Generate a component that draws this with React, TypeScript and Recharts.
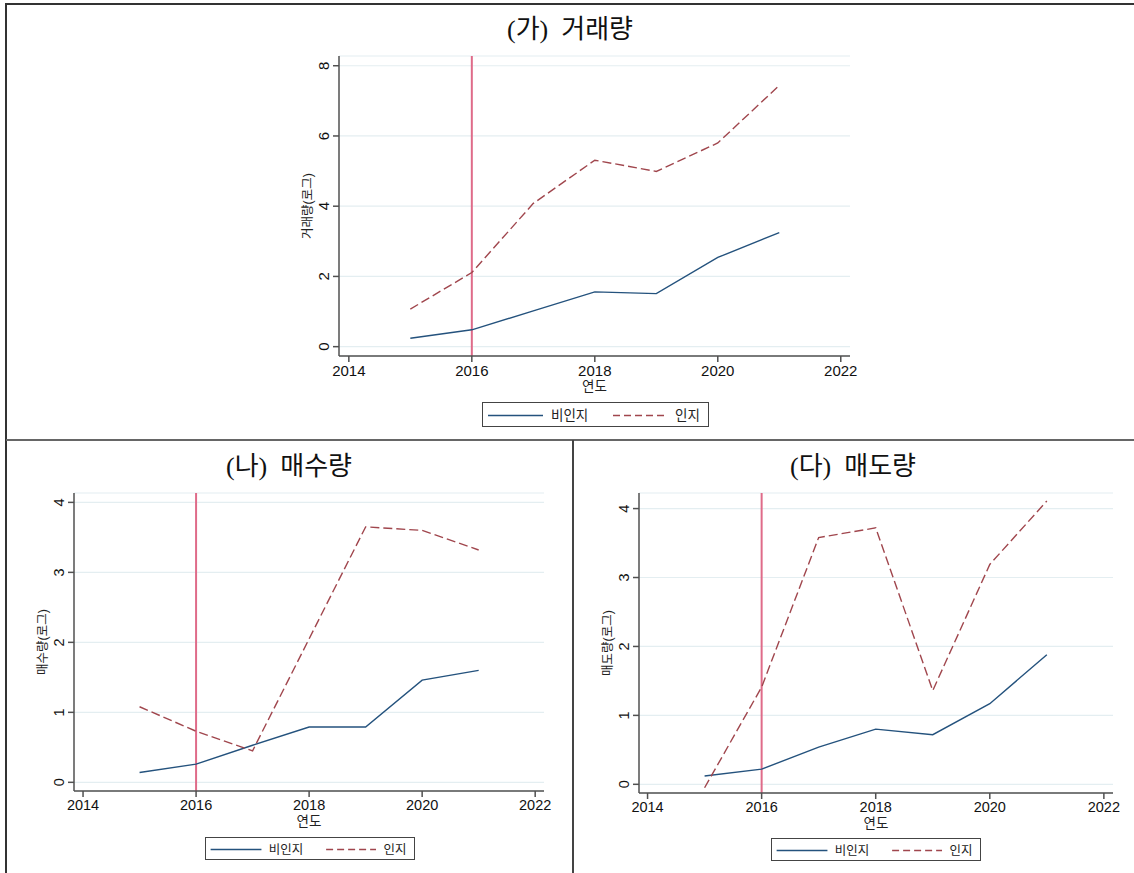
import React from "react";
import {
  LineChart,
  Line,
  XAxis,
  YAxis,
  CartesianGrid,
  ReferenceLine,
} from "recharts";

// 연도별 로그 거래량 (비인지 vs 인지)
const years = [2015, 2016, 2017, 2018, 2019, 2020, 2021];
const xTicks = [2014, 2016, 2018, 2020, 2022];

const tradeNonInsider = [0.24, 0.48, 1.02, 1.56, 1.51, 2.54, 3.25];
const tradeInsider = [1.07, 2.11, 4.08, 5.31, 4.99, 5.8, 7.44];
const buyNonInsider = [0.14, 0.26, 0.53, 0.79, 0.79, 1.46, 1.6];
const buyInsider = [1.08, 0.73, 0.45, 2.05, 3.65, 3.6, 3.32];
const sellNonInsider = [0.12, 0.22, 0.54, 0.8, 0.72, 1.17, 1.88];
const sellInsider = [-0.05, 1.41, 3.58, 3.72, 1.36, 3.19, 4.11];

const tradeTicks = [0, 2, 4, 6, 8];
const smallTicks = [0, 1, 2, 3, 4];

const eventYear = 2016;

const SANS = '"Liberation Sans", Arial, "Noto Sans CJK KR", sans-serif';
const SERIF = '"Liberation Serif", "Times New Roman", "Noto Sans CJK KR", serif';
const BLUE = "#24527d";
const RED = "#a0464d";
const EVENT = "#df6b89";
const AXIS = "#505050";

const toRows = (a: number[], b: number[]) =>
  years.map((year, i) => ({ year, nonInsider: a[i], insider: b[i] }));

function YTick(props: any) {
  const { x, y, payload, fontSize } = props;
  return (
    <text
      x={x}
      y={y}
      transform={`rotate(-90, ${x}, ${y})`}
      textAnchor="middle"
      fontSize={fontSize}
      fontFamily={SANS}
      fill="#111"
    >
      {payload.value}
    </text>
  );
}

function XTick(props: any) {
  const { x, y, payload, fontSize } = props;
  return (
    <text
      x={x}
      y={y}
      dy={fontSize * 0.72}
      textAnchor="middle"
      fontSize={fontSize}
      fontFamily={SANS}
      fill="#111"
    >
      {payload.value}
    </text>
  );
}

type PanelProps = {
  data: { year: number; nonInsider: number; insider: number }[];
  width: number;
  height: number;
  margin: { top: number; right: number; bottom: number; left: number };
  xDomain: [number, number];
  yDomain: [number, number];
  yTicks: number[];
  yLabel: string;
  tickFont: number;
};

function Panel({
  data,
  width,
  height,
  margin,
  xDomain,
  yDomain,
  yTicks,
  yLabel,
  tickFont,
}: PanelProps) {
  return (
    <LineChart width={width} height={height} data={data} margin={margin}>
      <CartesianGrid vertical={false} stroke="#e4eef1" strokeWidth={1.2} />
      <XAxis
        dataKey="year"
        type="number"
        domain={xDomain}
        ticks={xTicks}
        interval={0}
        allowDataOverflow
        height={40}
        stroke={AXIS}
        strokeWidth={1.5}
        tickSize={6}
        tickMargin={3}
        tick={(p: any) => <XTick {...p} fontSize={tickFont} />}
        label={(p: any) => {
          const vb = p.viewBox;
          return (
            <text
              x={vb.x + vb.width / 2}
              y={vb.y + 30}
              textAnchor="middle"
              dominantBaseline="central"
              fontSize={13.5}
              fontFamily={SANS}
              fill="#222"
            >
              연도
            </text>
          );
        }}
      />
      <YAxis
        type="number"
        domain={yDomain}
        ticks={yTicks}
        interval={0}
        allowDataOverflow
        width={40}
        stroke={AXIS}
        strokeWidth={1.5}
        tickSize={6}
        tickMargin={4}
        tick={(p: any) => <YTick {...p} fontSize={tickFont} />}
        label={(p: any) => {
          const vb = p.viewBox;
          const cx = vb.x + vb.width - 31;
          const cy = vb.y + vb.height / 2;
          return (
            <text
              x={cx}
              y={cy}
              transform={`rotate(-90, ${cx}, ${cy})`}
              textAnchor="middle"
              dominantBaseline="central"
              fontSize={12.5}
              fontFamily={SANS}
              fill="#222"
            >
              {yLabel}
            </text>
          );
        }}
      />
      <ReferenceLine x={eventYear} stroke={EVENT} strokeWidth={2} />
      <Line
        type="linear"
        dataKey="nonInsider"
        name="비인지"
        stroke={BLUE}
        strokeWidth={1.4}
        dot={false}
        isAnimationActive={false}
      />
      <Line
        type="linear"
        dataKey="insider"
        name="인지"
        stroke={RED}
        strokeWidth={1.4}
        strokeDasharray="9 4"
        dot={false}
        isAnimationActive={false}
      />
    </LineChart>
  );
}

function LegendBox({ left, top, s }: { left: number; top: number; s: number }) {
  const w = 227 * s;
  const h = 25 * s;
  return (
    <div
      style={{
        position: "absolute",
        left,
        top,
        width: w,
        height: h,
        border: "1.5px solid #444",
        boxSizing: "border-box",
        background: "#fff",
      }}
    >
      <svg width={w} height={h} style={{ position: "absolute", left: 0, top: 0 }}>
        <line x1={5 * s} x2={60 * s} y1={h / 2} y2={h / 2} stroke={BLUE} strokeWidth={1.4} />
        <text
          x={68 * s}
          y={h / 2}
          dominantBaseline="central"
          fontSize={13.5 * s}
          fontFamily={SANS}
          fill="#222"
        >
          비인지
        </text>
        <line
          x1={130 * s}
          x2={184 * s}
          y1={h / 2}
          y2={h / 2}
          stroke={RED}
          strokeWidth={1.4}
          strokeDasharray="7 4"
        />
        <text
          x={192 * s}
          y={h / 2}
          dominantBaseline="central"
          fontSize={13.5 * s}
          fontFamily={SANS}
          fill="#222"
        >
          인지
        </text>
      </svg>
    </div>
  );
}

function Title({ text, left, width, cy }: { text: string; left: number; width: number; cy: number }) {
  return (
    <div
      style={{
        position: "absolute",
        left,
        width,
        top: cy - 16,
        height: 32,
        lineHeight: "32px",
        textAlign: "center",
        fontFamily: SERIF,
        fontSize: 26,
        color: "#111",
        whiteSpace: "pre",
      }}
    >
      {text}
    </div>
  );
}

const rule = (style: React.CSSProperties) => (
  <div style={{ position: "absolute", background: "#333", ...style }} />
);

export default function App() {
  return (
    <div
      style={{
        position: "absolute",
        left: 0,
        top: 0,
        width: 1134,
        height: 873,
        background: "#fff",
        overflow: "hidden",
      }}
    >
      <div style={{ position: "absolute", left: 0, top: 0 }}>
        <Panel
          data={toRows(tradeNonInsider, tradeInsider)}
          width={1134}
          height={440}
          margin={{ top: 56, right: 284, bottom: 44, left: 299 }}
          xDomain={[2013.84, 2022.15]}
          yDomain={[-0.266, 8.277]}
          yTicks={tradeTicks}
          yLabel="거래량(로그)"
          tickFont={15}
        />
      </div>
      <div style={{ position: "absolute", left: 0, top: 440 }}>
        <Panel
          data={toRows(buyNonInsider, buyInsider)}
          width={572}
          height={433}
          margin={{ top: 53, right: 28, bottom: 42, left: 34 }}
          xDomain={[2013.84, 2022.156]}
          yDomain={[-0.124, 4.134]}
          yTicks={smallTicks}
          yLabel="매수량(로그)"
          tickFont={14.5}
        />
      </div>
      <div style={{ position: "absolute", left: 572, top: 440 }}>
        <Panel
          data={toRows(sellNonInsider, sellInsider)}
          width={562}
          height={433}
          margin={{ top: 53, right: 21, bottom: 40, left: 27 }}
          xDomain={[2013.85, 2022.16]}
          yDomain={[-0.126, 4.226]}
          yTicks={smallTicks}
          yLabel="매도량(로그)"
          tickFont={14.5}
        />
      </div>

      <Title text="(가)  거래량" left={6} width={1128} cy={30} />
      <Title text="(나)  매수량" left={6} width={566} cy={467} />
      <Title text="(다)  매도량" left={572} width={562} cy={467} />

      <LegendBox left={482} top={402} s={1} />
      <LegendBox left={205} top={837} s={0.924} />
      <LegendBox left={771} top={838} s={0.924} />

      {rule({ left: 6, top: 3, width: 1128, height: 2 })}
      {rule({ left: 5, top: 3, width: 2, height: 870 })}
      {rule({ left: 6, top: 439, width: 1128, height: 1.5, background: "#666" })}
      {rule({ left: 572, top: 440, width: 1.5, height: 433, background: "#444" })}
    </div>
  );
}
